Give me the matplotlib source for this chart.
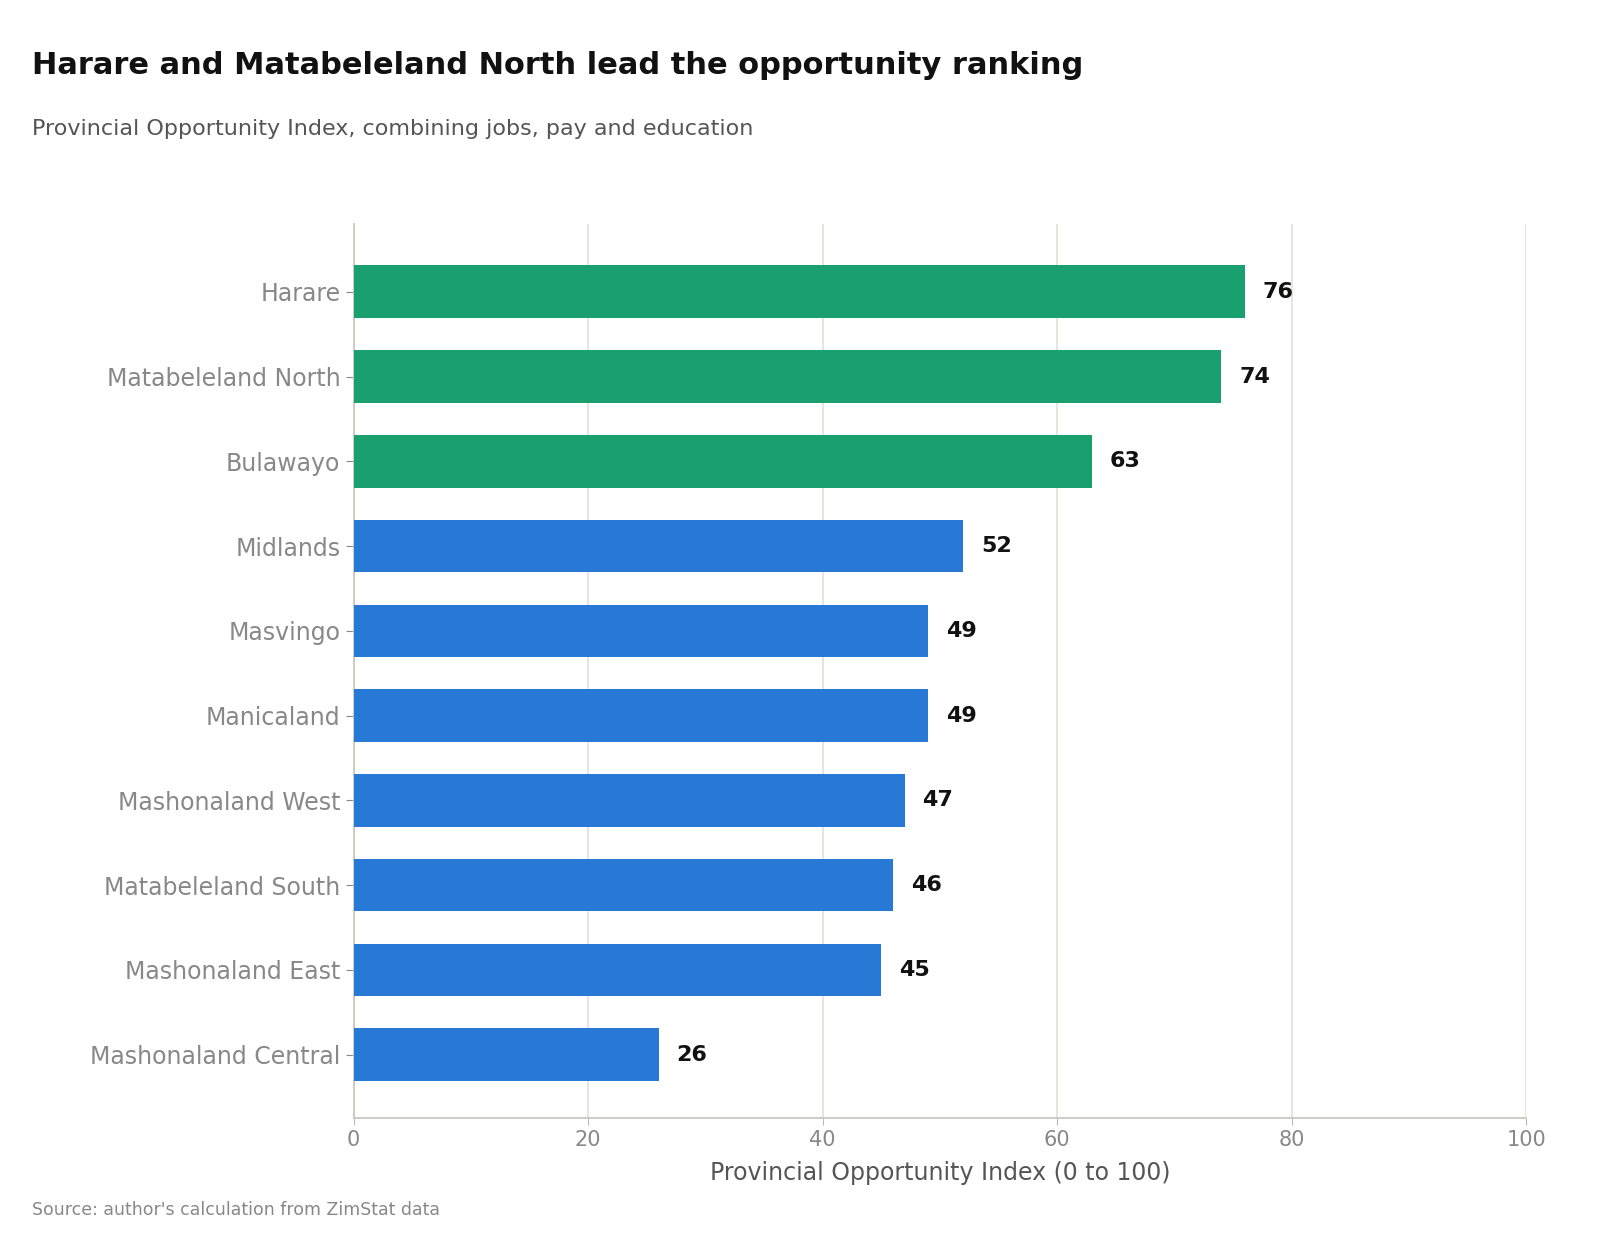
import matplotlib.pyplot as plt

plt.rcParams['font.family'] = ['DejaVu Sans']

provinces = ["Harare", "Matabeleland North", "Bulawayo", "Midlands", "Masvingo",
             "Manicaland", "Mashonaland West", "Matabeleland South",
             "Mashonaland East", "Mashonaland Central"]
scores = [76, 74, 63, 52, 49, 49, 47, 46, 45, 26]
top_n = 3

green = "#1a9f6e"
blue = "#2878d6"
colors = [green if i < top_n else blue for i in range(len(scores))]

fig = plt.figure(figsize=(16, 12.44), dpi=100)
ax = fig.add_axes([0.221, 0.101, 0.733, 0.719])

y = list(range(len(provinces)))
ax.barh(y, scores, height=0.62, color=colors, zorder=3)
for yi, v in zip(y, scores):
    ax.text(v + 1.5, yi, f"{v}", va="center", ha="left", fontsize=16,
            fontweight="bold", color="#111111")

ax.set_yticks(y)
ax.set_yticklabels(provinces)
ax.invert_yaxis()
ax.set_ylim(len(provinces) - 0.25, -0.8)
ax.set_xlim(0, 100)
ax.set_xticks([0, 20, 40, 60, 80, 100])
ax.tick_params(axis="y", labelsize=17, colors="#888888", labelcolor="#888888", length=6)
ax.tick_params(axis="x", labelsize=15, colors="#bbbbbb", labelcolor="#888888", length=5)
ax.grid(axis="x", color="#e2e2dc", linewidth=1.2, zorder=0)
for s in ["top", "right"]:
    ax.spines[s].set_visible(False)
for s in ["left", "bottom"]:
    ax.spines[s].set_color("#c8c8c0")
    ax.spines[s].set_linewidth(1.3)
ax.set_xlabel("Provincial Opportunity Index (0 to 100)", fontsize=17,
              color="#555555", labelpad=8)

fig.text(0.02, 0.947, "Harare and Matabeleland North lead the opportunity ranking",
         fontsize=22, fontweight="bold", color="#111111", va="center")
fig.text(0.02, 0.896, "Provincial Opportunity Index, combining jobs, pay and education",
         fontsize=16, color="#555555", va="center")
fig.text(0.02, 0.027, "Source: author's calculation from ZimStat data",
         fontsize=12.5, color="#888888", va="center")

fig.savefig("out.png", dpi=100)
